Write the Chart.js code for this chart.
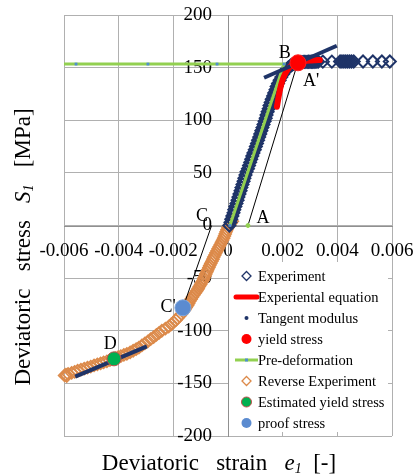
<!DOCTYPE html>
<html>
<head>
<meta charset="utf-8">
<script src="https://cdn.jsdelivr.net/npm/chart.js@4.4.1/dist/chart.umd.min.js"></script>
<style>
  html, body { margin: 0; padding: 0; background: #fff; }
</style>
</head>
<body>
<canvas id="chart" width="416" height="476"></canvas>
<script>
// ---- data (strain [-], stress [MPa]) ----
const xTickLabels = ['-0.006', '-0.004', '-0.002', '0', '0.002', '0.004', '0.006'];
const yTickLabels = ['-200', '-150', '-100', '-50', '0', '50', '100', '150', '200'];

// forward loading experiment
const expStrain = [0.00005, 0.00009, 0.00012, 0.00016, 0.0002, 0.00023, 0.00027, 0.00031, 0.00035, 0.00038,
  0.00042, 0.00046, 0.00049, 0.00053, 0.00057, 0.0006, 0.00064, 0.00068, 0.00073, 0.00077,
  0.00081, 0.00085, 0.00089, 0.00093, 0.00098, 0.00102, 0.00106, 0.0011, 0.00114, 0.00118,
  0.00122, 0.00126, 0.0013, 0.00134, 0.00138, 0.00141, 0.00145, 0.00149, 0.00152, 0.00156,
  0.0016, 0.00165, 0.00169, 0.00174, 0.00178, 0.00183, 0.00189, 0.00195, 0.00202, 0.00207,
  0.00213, 0.0022, 0.00225, 0.0023, 0.00235, 0.0024, 0.00245, 0.0025,
  0.00255, 0.0026, 0.00265, 0.0027, 0.00275, 0.0028, 0.00285, 0.0029, 0.00295, 0.003,
  0.00305, 0.0031, 0.00315, 0.0032, 0.00325, 0.0033,
  0.00347, 0.0038,
  0.0041, 0.00417, 0.00424, 0.00431, 0.00438, 0.00445, 0.00452, 0.0046,
  0.00494, 0.0053, 0.00563, 0.00592];
const expStress = [0, 3, 6, 9, 12, 15, 18, 21, 24, 27,
  30, 33, 36, 39, 42, 45, 48, 51, 54, 57,
  60, 63, 66, 69, 72, 75, 78, 81, 84, 87,
  90, 93, 96, 99, 102, 105, 108, 111, 114, 117,
  120, 123, 126, 129, 132, 135, 138, 141, 144, 146,
  148, 150, 151, 152, 153, 153.5, 154, 154.5,
  155, 155, 155.2, 155.3, 155.4, 155.5, 155.5, 155.5, 155.6, 155.6,
  155.6, 155.6, 155.6, 155.7, 155.7, 155.7,
  155.7, 155.7,
  155.8, 155.8, 155.8, 155.8, 155.8, 155.8, 155.8, 155.8,
  155.8, 155.8, 155.8, 155.8];

// empirical equation
const eqStrain = [0.00179, 0.00185, 0.00191, 0.00198, 0.00207, 0.00218, 0.0023, 0.00245, 0.0026, 0.0028, 0.003, 0.0032, 0.00336];
const eqStress = [112.8, 122, 130, 137, 143, 148, 151.5, 154, 155.3, 156.2, 156.7, 157, 157.2];

// tangent modulus lines
const tanBStrain = [0.00132, 0.00398];
const tanBStress = [140.4, 170.8];
const tanDStrain = [-0.00559, -0.00297];
const tanDStress = [-143.5, -114.9];

// pre-deformation path
const preStrain = [-0.0065, -0.00556, -0.00293, -0.0004, 0.00205, 0.00007];
const preStress = [153.4, 153.4, 153.4, 153.4, 153.4, 0];

// unloading lines A-A' and C'-C
const lineAStrain = [0.00073, 0.00255];
const lineAStress = [0, 154.5];
const lineCStrain = [-0.00165, -0.0006];
const lineCStress = [-78.2, 0];

// reverse experiment
const revStrain = [0.00016, 0.0001, 0.00004, 0, -0.00004, -0.00007, -0.0001, -0.00013, -0.00016, -0.0002,
  -0.00024, -0.00028, -0.00032, -0.00036, -0.0004, -0.00044, -0.00048, -0.00052, -0.00055, -0.00059,
  -0.00063, -0.00067, -0.0007, -0.00074, -0.00077, -0.00081, -0.00084, -0.00088, -0.00091, -0.00096,
  -0.001, -0.00105, -0.00109, -0.00114, -0.00119, -0.00125, -0.0013, -0.00135, -0.0014, -0.00144,
  -0.00148, -0.00153, -0.00158, -0.00164, -0.0017, -0.00177, -0.00184, -0.00191, -0.00199, -0.00208,
  -0.00217, -0.00229, -0.00242, -0.00252, -0.00262, -0.00272, -0.00283, -0.00293, -0.00304, -0.00315,
  -0.00326, -0.00336, -0.00347, -0.00358, -0.0037, -0.00381, -0.00392, -0.00402, -0.00412, -0.00422,
  -0.00432, -0.00443, -0.00455, -0.00466, -0.00478, -0.0049, -0.00502, -0.00514, -0.00526, -0.00538,
  -0.0055, -0.00561, -0.00572, -0.00585, -0.00593, -0.00598, -0.0059];
const revStress = [4, 2, 0, -2, -4, -6, -8, -10, -12, -14,
  -16, -18, -20, -22, -24, -26, -28, -30, -32, -34,
  -36, -38, -40, -42, -44, -46, -48, -50, -52, -54,
  -56, -58, -60, -62, -64, -66, -68, -70, -72, -74,
  -76, -78, -80, -82, -84, -86, -88, -90, -92, -94,
  -96, -98, -100, -102, -104, -106, -108, -110, -112, -114,
  -116, -117.5, -119, -120.5, -122, -123, -124, -125, -126, -127,
  -128, -129, -130, -131, -132, -133, -134, -135, -136, -137,
  -138, -139, -140, -141, -141.8, -142.5, -143];

// marked points
const yieldPt = { x: 0.00256, y: 154.6 };
const estYieldPt = { x: -0.00417, y: -126.7 };
const proofPt = { x: -0.00165, y: -78.2 };

// point letters
const letterText = ['B', "A'", 'A', 'C', "C'", 'D'];
const letterStrain = [0.00208, 0.00304, 0.00128, -0.00095, -0.00219, -0.00431];
const letterStress = [164, 136.6, 6.4, 9.2, -77.3, -112.5];

function zip(xs, ys) {
  return xs.map((x, i) => ({ x: x, y: ys[i] }));
}

const NAVY = '#1f3468';
const ORANGE = '#dc8a4a';
const GREEN = '#92d050';
const SERIF = "'Liberation Serif', 'Times New Roman', serif";

Chart.defaults.font.family = SERIF;
Chart.defaults.color = '#000';

// legend rows drawn inside the plot
const legendRows = [
  { label: 'Experiment', kind: 'diamond', color: NAVY },
  { label: 'Experiental equation', kind: 'line', color: '#ff0000' },
  { label: 'Tangent modulus', kind: 'dot', color: NAVY },
  { label: 'yield stress', kind: 'circle', color: '#ff0000' },
  { label: 'Pre-deformation', kind: 'greenline', color: GREEN },
  { label: 'Reverse Experiment', kind: 'diamond', color: ORANGE },
  { label: 'Estimated yield stress', kind: 'circle', color: '#00b050', border: '#c0504d' },
  { label: 'proof stress', kind: 'circle', color: '#5b8bd0' }
];

function drawRich(ctx, parts, size) {
  // measure then draw, centred on current origin, baseline at 0
  let total = 0;
  const fonts = parts.map(p => {
    const s = p.sub ? Math.round(size * 0.62) : size;
    const f = (p.it ? 'italic ' : '') + s + 'px ' + SERIF;
    ctx.font = f;
    const w = ctx.measureText(p.t).width;
    total += w;
    return { f: f, w: w };
  });
  let x = -total / 2;
  ctx.textAlign = 'left';
  ctx.textBaseline = 'alphabetic';
  parts.forEach((p, i) => {
    ctx.font = fonts[i].f;
    ctx.fillText(p.t, x, p.sub ? 3 : 0);
    x += fonts[i].w;
  });
}

// keep the label overflow from shrinking the plot area
function noScalePadding(scale) {
  scale.paddingTop = 0;
  scale.paddingBottom = 0;
  scale.paddingLeft = 0;
  scale.paddingRight = 0;
}

const decorPlugin = {
  id: 'decor',
  afterDatasetsDraw(chart) {
    const ctx = chart.ctx;
    const xs = chart.scales.x, ys = chart.scales.y;
    ctx.save();
    ctx.fillStyle = '#000';

    // letters
    ctx.font = '18px ' + SERIF;
    ctx.textAlign = 'center';
    ctx.textBaseline = 'middle';
    letterText.forEach((t, i) => {
      ctx.fillText(t, xs.getPixelForValue(letterStrain[i]), ys.getPixelForValue(letterStress[i]));
    });

    // legend
    const lx = 229, ly = 262, lw = 159, lh = 170;
    ctx.fillStyle = '#fff';
    ctx.fillRect(lx, ly, lw, lh);
    const symX = 246.5, textX = 258, rowY0 = 276, rowH = 21;
    legendRows.forEach((r, i) => {
      const y = rowY0 + i * rowH;
      ctx.save();
      if (r.kind === 'diamond') {
        ctx.strokeStyle = r.color; ctx.lineWidth = 1.3;
        ctx.beginPath();
        ctx.moveTo(symX, y - 4.5); ctx.lineTo(symX + 4.5, y); ctx.lineTo(symX, y + 4.5); ctx.lineTo(symX - 4.5, y); ctx.closePath();
        ctx.stroke();
      } else if (r.kind === 'line') {
        ctx.strokeStyle = r.color; ctx.lineWidth = 5; ctx.lineCap = 'round';
        ctx.beginPath(); ctx.moveTo(236, y); ctx.lineTo(257, y); ctx.stroke();
      } else if (r.kind === 'dot') {
        ctx.fillStyle = r.color;
        ctx.beginPath(); ctx.arc(symX, y, 2, 0, Math.PI * 2); ctx.fill();
      } else if (r.kind === 'circle') {
        ctx.fillStyle = r.color;
        ctx.beginPath(); ctx.arc(symX, y, 5, 0, Math.PI * 2); ctx.fill();
        if (r.border) { ctx.strokeStyle = r.border; ctx.lineWidth = 1; ctx.stroke(); }
      } else if (r.kind === 'greenline') {
        ctx.strokeStyle = r.color; ctx.lineWidth = 3;
        ctx.beginPath(); ctx.moveTo(235, y); ctx.lineTo(258, y); ctx.stroke();
        ctx.fillStyle = '#4f8fcf';
        ctx.fillRect(symX - 1.5, y - 1.5, 3, 3);
      }
      ctx.restore();
      ctx.fillStyle = '#000';
      ctx.font = '14.5px ' + SERIF;
      ctx.textAlign = 'left';
      ctx.textBaseline = 'middle';
      ctx.fillText(r.label, textX, y + 1);
    });

    // axis titles
    ctx.fillStyle = '#000';
    ctx.save();
    ctx.translate(219, 470);
    drawRich(ctx, [{ t: 'Deviatoric   strain   ' }, { t: 'e', it: true }, { t: '1', it: true, sub: true }, { t: '  [-]' }], 23);
    ctx.restore();
    ctx.save();
    ctx.translate(30, 247);
    ctx.rotate(-Math.PI / 2);
    drawRich(ctx, [{ t: 'Deviatoric   stress   ' }, { t: 'S', it: true }, { t: '1', it: true, sub: true }, { t: '   [MPa]' }], 23);
    ctx.restore();
    ctx.restore();
  }
};

new Chart(document.getElementById('chart'), {
  type: 'scatter',
  data: {
    datasets: [
      { label: 'yield stress', data: [yieldPt], order: 1, pointRadius: 8, pointBackgroundColor: '#ff0000', pointBorderColor: '#ff2020', pointBorderWidth: 1 },
      { label: 'Estimated yield stress', data: [estYieldPt], order: 1, pointRadius: 7, pointBackgroundColor: '#00b050', pointBorderColor: '#c0504d', pointBorderWidth: 1 },
      { label: 'proof stress', data: [proofPt], order: 1, pointRadius: 8, pointBackgroundColor: '#5b8bd0', pointBorderColor: '#7ea6dc', pointBorderWidth: 1 },
      { label: 'A line', data: zip(lineAStrain, lineAStress), order: 2, showLine: true, borderColor: '#000', borderWidth: 1, pointRadius: 2, pointBackgroundColor: GREEN, pointBorderColor: GREEN },
      { label: 'C line', data: zip(lineCStrain, lineCStress), order: 2, showLine: true, borderColor: '#000', borderWidth: 1, pointRadius: 0 },
      { label: 'Tangent modulus', data: zip(tanBStrain, tanBStress), order: 3, showLine: true, borderColor: NAVY, borderWidth: 4, pointRadius: 0 },
      { label: 'Tangent modulus D', data: zip(tanDStrain, tanDStress), order: 3, showLine: true, borderColor: NAVY, borderWidth: 4, pointRadius: 0 },
      { label: 'Experiental equation', data: zip(eqStrain, eqStress), order: 4, showLine: true, borderColor: '#ff0000', borderWidth: 6, borderCapStyle: 'round', cubicInterpolationMode: 'monotone', pointRadius: 0 },
      { label: 'Pre-deformation', data: zip(preStrain, preStress), order: 5, showLine: true, borderColor: GREEN, borderWidth: 3, pointStyle: 'rect', pointRadius: 2, pointBackgroundColor: '#4f8fcf', pointBorderColor: '#4f8fcf', pointBorderWidth: 0 },
      { label: 'Experiment', data: zip(expStrain, expStress), order: 6, clip: false, pointStyle: 'rectRot', pointRadius: 6, pointBorderWidth: 2, pointBorderColor: NAVY, pointBackgroundColor: 'rgba(255,255,255,0)' },
      { label: 'Reverse Experiment', data: zip(revStrain, revStress), order: 7, clip: false, pointStyle: 'rectRot', pointRadius: 6, pointBorderWidth: 1.6, pointBorderColor: ORANGE, pointBackgroundColor: 'rgba(255,255,255,0)' }
    ]
  },
  options: {
    responsive: false,
    animation: false,
    layout: { padding: { left: 64, right: 24, top: 15, bottom: 40 } },
    plugins: { legend: { display: false }, tooltip: { enabled: false } },
    scales: {
      x: {
        type: 'linear', position: 'center', min: -0.006, max: 0.006,
        afterFit: noScalePadding,
        grid: { color: '#b0b0b0', drawTicks: false },
        border: { color: '#909090' },
        ticks: {
          stepSize: 0.002, padding: 14, maxRotation: 0, autoSkip: false,
          font: { size: 19 },
          callback: (v) => xTickLabels[Math.round((v + 0.006) / 0.002)]
        }
      },
      y: {
        type: 'linear', position: 'center', min: -200, max: 200,
        afterFit: noScalePadding,
        grid: { color: '#b0b0b0', drawTicks: false },
        border: { color: '#909090' },
        ticks: {
          stepSize: 50, padding: 16,
          font: { size: 19 },
          callback: (v) => yTickLabels[Math.round((v + 200) / 50)]
        }
      }
    }
  },
  plugins: [decorPlugin]
});
</script>
</body>
</html>
